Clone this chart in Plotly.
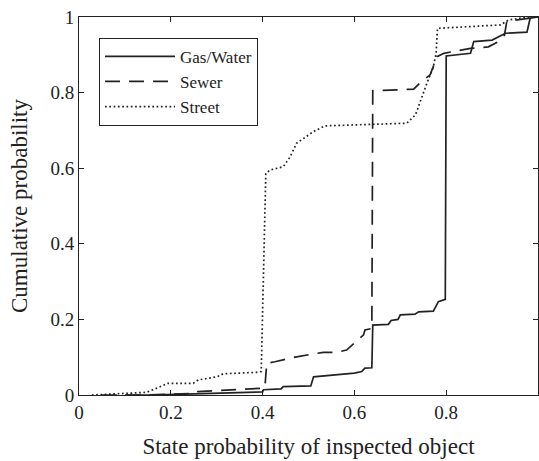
import plotly.graph_objects as go

# ---- data ----
gas_x = [0.10, 0.15, 0.25, 0.40, 0.402, 0.44, 0.445, 0.505, 0.511, 0.60, 0.616, 0.623, 0.638, 0.640,
         0.674, 0.68, 0.695, 0.70, 0.732, 0.74, 0.772, 0.783, 0.798, 0.800, 0.853, 0.860, 0.900,
         0.929, 0.976, 0.983, 1.0]
gas_y = [0.0, 0.0, 0.003, 0.008, 0.014, 0.016, 0.022, 0.024, 0.048, 0.058, 0.062, 0.071, 0.072, 0.185,
         0.187, 0.197, 0.200, 0.212, 0.214, 0.220, 0.222, 0.247, 0.253, 0.897, 0.904, 0.935, 0.939,
         0.957, 0.960, 0.997, 1.0]

sewer_x = [0.05, 0.15, 0.20, 0.255, 0.259, 0.307, 0.357, 0.40, 0.405, 0.409, 0.427, 0.474, 0.532,
           0.562, 0.583, 0.620, 0.623, 0.638, 0.640, 0.729, 0.743, 0.765, 0.780, 0.795, 0.838,
           0.853, 0.892, 0.914, 0.927, 0.932, 0.983, 1.0]
sewer_y = [0.0, 0.0, 0.002, 0.004, 0.009, 0.011, 0.015, 0.018, 0.020, 0.084, 0.088, 0.101, 0.113,
           0.113, 0.119, 0.159, 0.172, 0.176, 0.805, 0.809, 0.826, 0.847, 0.895, 0.904, 0.913,
           0.917, 0.921, 0.935, 0.952, 0.989, 0.997, 1.0]

street_x = [0.028, 0.11, 0.147, 0.173, 0.194, 0.249, 0.26, 0.30, 0.314, 0.387, 0.397, 0.407, 0.416,
            0.445, 0.46, 0.474, 0.489, 0.511, 0.536, 0.714, 0.733, 0.747, 0.758, 0.772, 0.778,
            0.781, 0.918, 0.936, 0.976, 1.0]
street_y = [0.0, 0.004, 0.007, 0.020, 0.031, 0.031, 0.040, 0.048, 0.056, 0.060, 0.062, 0.586, 0.595,
            0.604, 0.630, 0.666, 0.679, 0.697, 0.712, 0.719, 0.741, 0.789, 0.825, 0.868, 0.904,
            0.970, 0.979, 0.992, 1.0, 1.0]

tick_vals = [0, 0.2, 0.4, 0.6, 0.8, 1]
tick_text = ["0", "0.2", "0.4", "0.6", "0.8", "1"]

ink = "#222222"
serif = "Liberation Serif, Times New Roman, DejaVu Serif, serif"

fig = go.Figure()
fig.add_trace(go.Scatter(x=gas_x, y=gas_y, mode="lines", name="Gas/Water",
                         line=dict(color=ink, width=1.7)))
fig.add_trace(go.Scatter(x=sewer_x, y=sewer_y, mode="lines", name="Sewer",
                         line=dict(color=ink, width=1.7, dash="15px,9px")))
fig.add_trace(go.Scatter(x=street_x, y=street_y, mode="lines", name="Street",
                         line=dict(color=ink, width=1.7, dash="1.7px,2.6px")))

axis_common = dict(range=[0, 1], tickvals=tick_vals, ticktext=tick_text, ticks="inside",
                   ticklen=5, tickcolor=ink, showline=True, linecolor=ink, linewidth=1,
                   mirror="ticks", showgrid=False, zeroline=False, automargin=False,
                   tickfont=dict(family=serif, size=19, color=ink))

fig.update_layout(
    width=539, height=461,
    margin=dict(l=79, r=1, t=17, b=66),
    paper_bgcolor="white", plot_bgcolor="white",
    font=dict(family=serif, color=ink),
    xaxis=dict(**axis_common,
               title=dict(text="State probability of inspected object",
                          font=dict(family=serif, size=23, color=ink), standoff=16)),
    yaxis=dict(**axis_common,
               title=dict(text="Cumulative probability",
                          font=dict(family=serif, size=23, color=ink), standoff=16)),
    legend=dict(x=0.0436, y=0.945, xanchor="left", yanchor="top",
                bgcolor="white", bordercolor=ink, borderwidth=1,
                font=dict(family=serif, size=17, color=ink), itemwidth=70,
                tracegroupgap=0),
    showlegend=True,
)

fig.write_html("out.html", config={"displayModeBar": False},
               post_script="document.body.style.margin='0';document.body.style.overflow='hidden';")
